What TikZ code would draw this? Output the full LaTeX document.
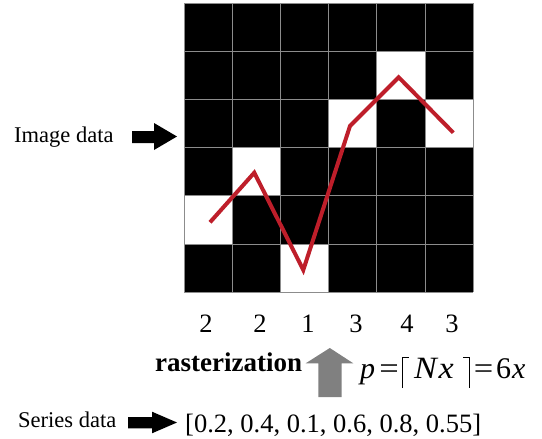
\documentclass[tikz,border=0pt]{standalone}
\usepackage{fontspec}
\setmainfont{Liberation Serif}
\definecolor{redline}{RGB}{190,30,42}
\definecolor{gridgray}{RGB}{140,140,140}
\definecolor{arrowgray}{RGB}{128,128,128}
\begin{document}
\begin{tikzpicture}[x=1pt,y=-1pt,
  lbl/.style={anchor=base west,inner sep=0pt,font=\fontsize{22.5}{26}\selectfont},
  big/.style={inner sep=0pt,font=\fontsize{26.5}{30}\selectfont},
  mth/.style={inner sep=0pt,anchor=base west,font=\fontsize{30}{34}\selectfont},
  ceil/.style={line width=1.1pt,line cap=butt},
  blockarrow/.style={fill=black},
  cellw/.style={fill=white}]
\useasboundingbox (0,0) rectangle (542,439);
% grid
\def\cw{48.2}
\fill[black] (184,3) rectangle ++(6*\cw,6*\cw);
\foreach \c/\r in {0/4,1/3,2/5,3/2,4/1,5/2}
  \fill[cellw] ({184+\c*\cw},{3+\r*\cw}) rectangle ++(\cw,\cw);
\foreach \i in {0,...,6} {
  \draw[gridgray,line width=1pt] ({184+\i*\cw},3) -- ({184+\i*\cw},{3+6*\cw});
  \draw[gridgray,line width=1pt] (184,{3+\i*\cw}) -- ({184+6*\cw},{3+\i*\cw});
}
% red series line
\coordinate (p1) at (210,222.3);
\coordinate (p2) at (254.3,172.7);
\coordinate (p3) at (303.3,270);
\coordinate (p4) at (350,126);
\coordinate (p5) at (398.7,77.3);
\coordinate (p6) at (453.3,132.7);
\draw[redline,line width=4pt,line join=miter] (p1) -- (p2) -- (p3) -- (p4) -- (p5) -- (p6);
% column values
\foreach \x/\v [count=\k] in {206/2,260/2,308/1,356/3,407/4,452/3}
  \node[big,anchor=base] (v\k) at (\x,332.7) {\v};
% labels
\node[lbl] (imgdata) at (14,142.7) {Image data};
\node[lbl] (serdata) at (18,427.3) {Series data};
% black block arrows
\fill[blockarrow] (132,131) -- (154,131) -- (154,123) -- (177,136.5) -- (154,150) -- (154,143) -- (132,143) -- cycle;
\fill[blockarrow] (128,417) -- (152,417) -- (152,411.7) -- (177,422.5) -- (152,433.3) -- (152,428.3) -- (128,428.3) -- cycle;
% gray up arrow
\fill[arrowgray] (318.3,397) -- (318.3,363.3) -- (305.7,363.3) -- (329.8,348) -- (353.3,363.3) -- (341.7,363.3) -- (341.7,397) -- cycle;
% texts
\node[big,anchor=base west] (raster) at (155,371.7) {\fontsize{27}{30}\selectfont\bfseries rasterization};
\node[mth] (fp) at (360,378) {\itshape p};
\node[mth,anchor=base] (feq1) at (389,378) {\scalebox{1.15}[1]{=}};
\draw[ceil] (402.5,388) -- (402.5,357.5) -- (409,357.5);
\node[mth] (fnx) at (414,378) {\scalebox{1.1}[1]{\fontsize{31}{34}\selectfont\itshape N\kern1.5pt x}};
\draw[ceil] (463,357.5) -- (469.5,357.5) -- (469.5,388);
\node[mth,anchor=base] (feq2) at (483.5,378) {\scalebox{1.15}[1]{=}};
\node[mth] (f6x) at (496,378) {6\kern1pt\itshape x};
\node[big,anchor=base west] (series) at (185,432.7) {[0.2, 0.4, 0.1, 0.6, 0.8, 0.55]};
\end{tikzpicture}
\end{document}
